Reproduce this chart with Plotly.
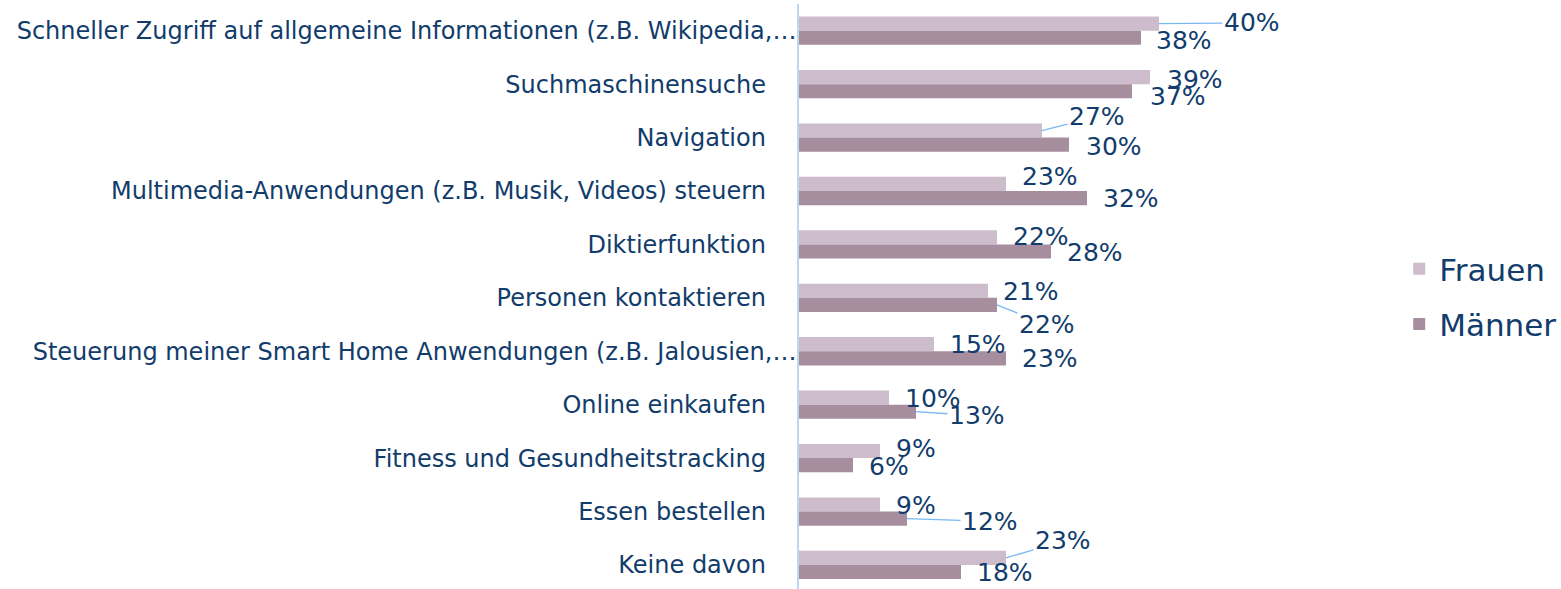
import plotly.graph_objects as go

categories = [
    "Schneller Zugriff auf allgemeine Informationen (z.B. Wikipedia,…",
    "Suchmaschinensuche",
    "Navigation",
    "Multimedia-Anwendungen (z.B. Musik, Videos) steuern",
    "Diktierfunktion",
    "Personen kontaktieren",
    "Steuerung meiner Smart Home Anwendungen (z.B. Jalousien,…",
    "Online einkaufen",
    "Fitness und Gesundheitstracking",
    "Essen bestellen",
    "Keine davon",
]
frauen = [40, 39, 27, 23, 22, 21, 15, 10, 9, 9, 23]
maenner = [38, 37, 30, 32, 28, 22, 23, 13, 6, 12, 18]

# label offsets (pixels) of the data labels relative to bar end, and whether a leader line is shown
frauen_off = [(93, -1, True), (45, 2, False), (55, -14, True), (44, -7, False), (44, -1, False),
              (43, 1, False), (44, 0, False), (44, 1, False), (36, -3, False), (36, 1, False),
              (57, -17, True)]
maenner_off = [(43, 3, False), (46, 5, False), (45, 2, False), (44, 1, False), (44, 1, False),
               (50, 20, True), (44, 0, False), (61, 4, True), (36, 1, False), (83, 3, True),
               (44, 1, False)]

TEXT = "#113c6b"
C_F = "#cdbccb"
C_M = "#a68e9f"
LEADER = "#7ab8f2"
FONT = "DejaVu Sans"

W, H = 1561, 589
L, T, B = 799, 4, 0
XMAX = 45
PW = 405
R = W - L - PW

fig = go.Figure()
fig.add_trace(go.Bar(y=categories, x=frauen, orientation="h", name="Frauen",
                     marker=dict(color=C_F, line=dict(width=0)), legendgroup="f"))
fig.add_trace(go.Bar(y=categories, x=maenner, orientation="h", name="Männer",
                     marker=dict(color=C_M, line=dict(width=0)), legendgroup="m"))

ticktext = [c if c.endswith("…") else c + "\u00a0" * 4 for c in categories]

annotations = []
for vals, offs, ysh in ((frauen, frauen_off, 7), (maenner, maenner_off, -7)):
    for c, v, (ax, ay, lead) in zip(categories, vals, offs):
        annotations.append(dict(
            x=v, y=c, xref="x", yref="y", text=f"{v}%", showarrow=True,
            ax=ax, ay=ay, axref="pixel", ayref="pixel", arrowhead=0, standoff=0,
            arrowwidth=1.3, arrowcolor=LEADER if lead else "rgba(0,0,0,0)",
            yshift=ysh, font=dict(family=FONT, size=25, color=TEXT),
            xanchor="center", yanchor="middle",
        ))

fig.update_layout(
    width=W, height=H,
    margin=dict(l=L, r=R, t=T, b=B, autoexpand=False),
    paper_bgcolor="white", plot_bgcolor="white",
    barmode="group", bargap=0.47, bargroupgap=0,
    font=dict(family=FONT, color=TEXT),
    xaxis=dict(range=[0, XMAX], visible=False, showgrid=False, zeroline=False),
    yaxis=dict(range=[10.45, -0.5], autorange=False, tickmode="array", tickvals=categories,
               ticktext=ticktext,
               tickfont=dict(family=FONT, size=24, color=TEXT), showgrid=False,
               showline=True, linecolor="#bdd7ee", linewidth=1.5, ticks="", ticklabelstandoff=-4),
    legend=dict(x=1.482, y=0.5, xanchor="left", yanchor="middle", traceorder="grouped",
                tracegroupgap=12, font=dict(family=FONT, size=31, color=TEXT),
                bgcolor="rgba(0,0,0,0)", itemsizing="constant"),
    annotations=annotations,
    showlegend=True,
)

fig.write_html("out.html", config={"displayModeBar": False},
               post_script="document.body.style.margin='0';document.body.style.overflow='hidden';")
